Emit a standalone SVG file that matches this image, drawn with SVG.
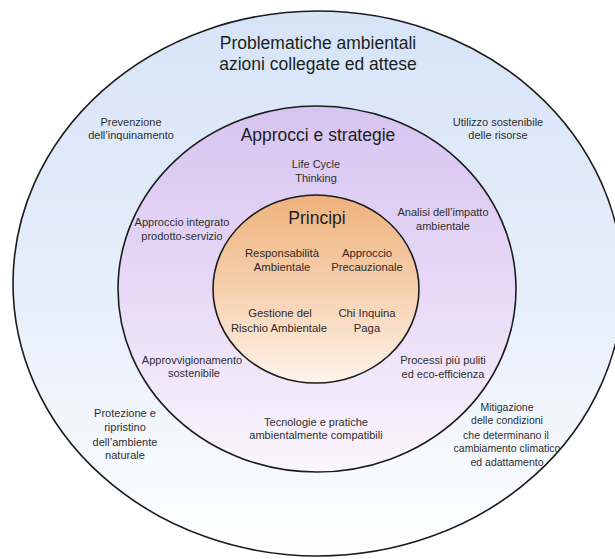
<svg xmlns="http://www.w3.org/2000/svg" width="615" height="559" viewBox="0 0 615 559">
  <defs>
    <!-- vertical fills for the three concentric rings -->
    <linearGradient id="gOuter" x1="0" y1="0" x2="0" y2="1">
      <stop offset="0" stop-color="#d6e4f7"/>
      <stop offset="0.55" stop-color="#e7effa"/>
      <stop offset="1" stop-color="#ffffff"/>
    </linearGradient>
    <linearGradient id="gMiddle" x1="0" y1="0" x2="0" y2="1">
      <stop offset="0" stop-color="#d6c4f0"/>
      <stop offset="0.5" stop-color="#e7d9f6"/>
      <stop offset="1" stop-color="#fbf5fc"/>
    </linearGradient>
    <linearGradient id="gInner" x1="0" y1="0" x2="0" y2="1">
      <stop offset="0" stop-color="#efb27d"/>
      <stop offset="0.5" stop-color="#f6d0ae"/>
      <stop offset="1" stop-color="#fdf3ea"/>
    </linearGradient>
  </defs>
  <style>
    .ring { stroke: #1c1c1c; stroke-width: 1.6; }
    text { font-family: "Liberation Sans", Arial, Helvetica, sans-serif; text-anchor: middle; }
    .title { font-size: 17.5px; fill: #1e1e1e; }
    .label { font-size: 11px; fill: #2f2f2f; }
    .lbl-in { font-size: 11.3px; fill: #33291f; }
    .small { font-size: 10.5px; fill: #2f2f2f; }
  </style>

  <rect width="615" height="559" fill="#ffffff"/>

  <!-- outer ring: environmental issues -->
  <g id="problematiche">
    <ellipse class="ring" cx="318" cy="283.5" rx="305" ry="272.5" fill="url(#gOuter)"/>
    <text class="title" x="318" y="49">Problematiche ambientali</text>
    <text class="title" x="318" y="70">azioni collegate ed attese</text>
    <text class="label" x="131" y="126">Prevenzione</text>
    <text class="label" x="131" y="139">dell’inquinamento</text>
    <text class="label" x="498" y="126">Utilizzo sostenibile</text>
    <text class="label" x="498" y="139">delle risorse</text>
    <text class="label" x="125" y="417">Protezione e</text>
    <text class="label" x="125" y="431">ripristino</text>
    <text class="label" x="125" y="446">dell’ambiente</text>
    <text class="label" x="125" y="459">naturale</text>
    <text class="small" x="507" y="411">Mitigazione</text>
    <text class="small" x="507" y="424">delle condizioni</text>
    <text class="small" x="506" y="439">che determinano il</text>
    <text class="small" x="507" y="452">cambiamento climatico</text>
    <text class="small" x="507" y="466">ed adattamento</text>
  </g>

  <!-- middle ring: approaches and strategies -->
  <g id="approcci">
    <ellipse class="ring" cx="317" cy="289" rx="199" ry="183" fill="url(#gMiddle)"/>
    <text class="title" x="318" y="141">Approcci e strategie</text>
    <text class="label" x="316" y="168">Life Cycle</text>
    <text class="label" x="316" y="182">Thinking</text>
    <text class="label" x="443" y="216">Analisi dell’impatto</text>
    <text class="label" x="443" y="230">ambientale</text>
    <text class="label" x="182" y="226">Approccio integrato</text>
    <text class="label" x="182" y="240">prodotto-servizio</text>
    <text class="label" x="192" y="364">Approvvigionamento</text>
    <text class="label" x="194" y="377">sostenibile</text>
    <text class="label" x="443" y="364">Processi più puliti</text>
    <text class="label" x="443" y="378">ed eco-efficienza</text>
    <text class="label" x="316" y="426">Tecnologie e pratiche</text>
    <text class="label" x="316" y="439">ambientalmente compatibili</text>
  </g>

  <!-- inner disc: principles -->
  <g id="principi">
    <ellipse class="ring" cx="316" cy="289" rx="103" ry="94" fill="url(#gInner)"/>
    <text class="title" x="317" y="224">Principi</text>
    <text class="lbl-in" x="282" y="257">Responsabilità</text>
    <text class="lbl-in" x="282" y="271">Ambientale</text>
    <text class="lbl-in" x="367" y="257">Approccio</text>
    <text class="lbl-in" x="367" y="271">Precauzionale</text>
    <text class="lbl-in" x="280" y="317">Gestione del</text>
    <text class="lbl-in" x="279" y="332">Rischio Ambientale</text>
    <text class="lbl-in" x="367" y="317">Chi Inquina</text>
    <text class="lbl-in" x="367" y="332">Paga</text>
  </g>
</svg>
